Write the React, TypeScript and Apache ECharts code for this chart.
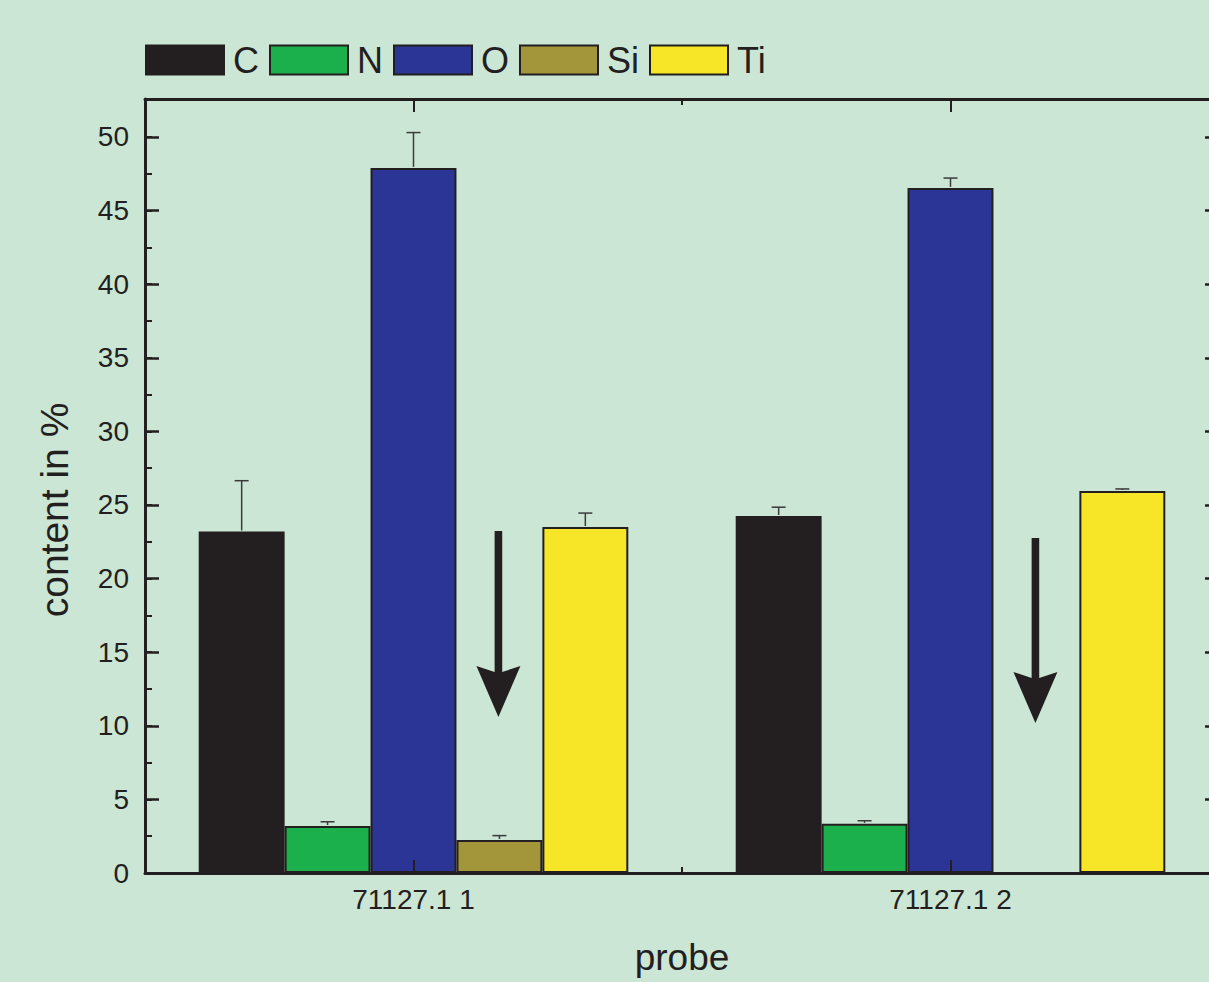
import React, { useEffect, useRef } from 'react';
import * as echarts from 'echarts';

const categories = ['71127.1 1', '71127.1 2'];
const elements = ['C', 'N', 'O', 'Si', 'Ti'];
const colors = ['#231f20', '#1bb04b', '#2b3595', '#a39539', '#f7e627'];
const cValues = [23.2, 24.25];
const nValues = [3.19, 3.34];
const oValues = [47.9, 46.54];
const siValues: (number | null)[] = [2.24, null];
const tiValues = [23.5, 25.95];
const cErrors = [3.45, 0.6];
const nErrors = [0.29, 0.21];
const oErrors = [2.4, 0.67];
const siErrors: (number | null)[] = [0.3, null];
const tiErrors = [0.95, 0.14];
const arrowStart = [23.23, 22.76];
const arrowEnd = [10.6, 10.19];
const categoryCenters = [0.5, 1.5];

const FONT = '"Liberation Sans", Arial, Helvetica, sans-serif';
const INK = '#231f20';
const Y_MAX = 52.58;

export default function App() {
  const ref = useRef<HTMLDivElement>(null);
  useEffect(() => {
    if (!ref.current) return;
    const chart = echarts.init(ref.current, null, { renderer: 'svg' });
    const values = [cValues, nValues, oValues, siValues, tiValues];
    const errors = [cErrors, nErrors, oErrors, siErrors, tiErrors];
    const errData: number[][] = [];
    values.forEach((arr, k) => {
      arr.forEach((v, i) => {
        const e = errors[k][i];
        if (v != null && e != null) errData.push([i, v, e, k]);
      });
    });
    const arrowData = arrowStart.map((s, i) => [i, s, arrowEnd[i]]);

    const barSeries = elements.map((name, k) => ({
      name,
      type: 'bar',
      xAxisIndex: 0,
      yAxisIndex: 0,
      barWidth: '16%',
      barGap: '0%',
      data: values[k],
      itemStyle: { color: colors[k], borderColor: INK, borderWidth: 2 },
    }));

    const tickAxis = (position: string, length: number, custom?: number[], line = false) => ({
      type: 'value',
      position,
      min: 0,
      max: 2,
      interval: 1,
      z: 6,
      axisLine: { show: line, onZero: false, lineStyle: { color: INK, width: 3 } },
      axisTick: custom
        ? { show: true, inside: true, length, customValues: custom, lineStyle: { color: INK, width: 2 } }
        : { show: true, inside: true, length, lineStyle: { color: INK, width: 2 } },
      axisLabel: { show: false },
      splitLine: { show: false },
    });

    chart.setOption({
      animation: false,
      backgroundColor: '#cbe6d5',
      textStyle: { fontFamily: FONT },
      legend: {
        data: elements,
        left: 140,
        top: 37,
        icon: 'rect',
        itemWidth: 78,
        itemHeight: 29,
        itemGap: 10,
        itemStyle: { borderColor: INK, borderWidth: 2 },
        textStyle: { fontSize: 36, color: INK, fontFamily: FONT, padding: [0, 0, 0, 4] },
      },
      grid: { left: 145, top: 99, width: 1074, height: 774, outerBoundsMode: 'none' },
      xAxis: [
        {
          type: 'category',
          data: categories,
          position: 'bottom',
          z: 6,
          axisLine: { onZero: false, lineStyle: { color: INK, width: 3 } },
          axisTick: { show: false },
          axisLabel: { fontSize: 28, color: INK, fontFamily: FONT, margin: 12 },
          name: 'probe',
          nameLocation: 'middle',
          nameGap: 66,
          nameTextStyle: { fontSize: 37, color: INK, fontFamily: FONT },
        },
        tickAxis('bottom', 6),
        tickAxis('bottom', 13, categoryCenters),
        tickAxis('top', 6, undefined, true),
        tickAxis('top', 13, categoryCenters),
      ],
      yAxis: [
        {
          type: 'value',
          position: 'left',
          min: 0,
          max: Y_MAX,
          interval: 5,
          axisLine: { show: true, onZero: false, lineStyle: { color: INK, width: 3 } },
          axisTick: { show: true, inside: true, length: 14, lineStyle: { color: INK, width: 2.5 } },
          axisLabel: {
            fontSize: 28,
            color: INK,
            fontFamily: FONT,
            margin: 16,
            formatter: (v: number) => (Math.abs(v % 5) < 1e-6 ? String(v) : ''),
          },
          splitLine: { show: false },
          name: 'content in %',
          nameLocation: 'middle',
          nameGap: 71,
          nameTextStyle: { fontSize: 39, color: INK, fontFamily: FONT, padding: [0, 48, 0, 0] },
        },
        {
          type: 'value',
          position: 'left',
          min: 0,
          max: Y_MAX,
          interval: 2.5,
          axisLine: { show: false, onZero: false },
          axisTick: { show: true, inside: true, length: 7, lineStyle: { color: INK, width: 2 } },
          axisLabel: { show: false },
          splitLine: { show: false },
        },
        {
          type: 'value',
          position: 'right',
          min: 0,
          max: Y_MAX,
          interval: 5,
          axisLine: { show: true, onZero: false, lineStyle: { color: INK, width: 3 } },
          axisTick: { show: true, inside: true, length: 14, lineStyle: { color: INK, width: 2.5 } },
          axisLabel: { show: false },
          splitLine: { show: false },
        },
      ],
      series: [
        ...barSeries,
        {
          type: 'custom',
          xAxisIndex: 0,
          yAxisIndex: 0,
          z: 3,
          encode: { x: 0, y: 1 },
          data: errData,
          renderItem: (params: any, api: any) => {
            const cat = api.value(0);
            const v = api.value(1);
            const e = api.value(2);
            const k = api.value(3);
            const band = api.size([1, 0])[0];
            const bw = band * 0.16;
            const base = api.coord([cat, v]);
            const top = api.coord([cat, v + e]);
            const x = base[0] + (k - 2) * bw;
            const st = { stroke: '#3a3a3a', lineWidth: 1.5 };
            return {
              type: 'group',
              children: [
                { type: 'line', shape: { x1: x, y1: base[1] - 1, x2: x, y2: top[1] }, style: st },
                { type: 'line', shape: { x1: x - 7, y1: top[1], x2: x + 7, y2: top[1] }, style: st },
              ],
            };
          },
        },
        {
          type: 'custom',
          xAxisIndex: 0,
          yAxisIndex: 0,
          z: 4,
          encode: { x: 0, y: 1 },
          data: arrowData,
          renderItem: (params: any, api: any) => {
            const cat = api.value(0);
            const s = api.value(1);
            const t = api.value(2);
            const band = api.size([1, 0])[0];
            const bw = band * 0.16;
            const p0 = api.coord([cat, s]);
            const p1 = api.coord([cat, t]);
            const x = p0[0] + bw - 1;
            const y0 = p0[1];
            const y1 = p1[1];
            const hw = 3.8;
            return {
              type: 'polygon',
              shape: {
                points: [
                  [x - hw, y0],
                  [x + hw, y0],
                  [x + hw, y1 - 45],
                  [x + 22, y1 - 51],
                  [x, y1],
                  [x - 22, y1 - 51],
                  [x - hw, y1 - 45],
                ],
              },
              style: { fill: INK },
            };
          },
        },
      ],
    });
    return () => chart.dispose();
  }, []);
  return (
    <div style={{ position: 'absolute', left: 0, top: 0, width: 1209, height: 982, overflow: 'hidden' }}>
      <div ref={ref} style={{ width: 1240, height: 982 }} />
    </div>
  );
}
